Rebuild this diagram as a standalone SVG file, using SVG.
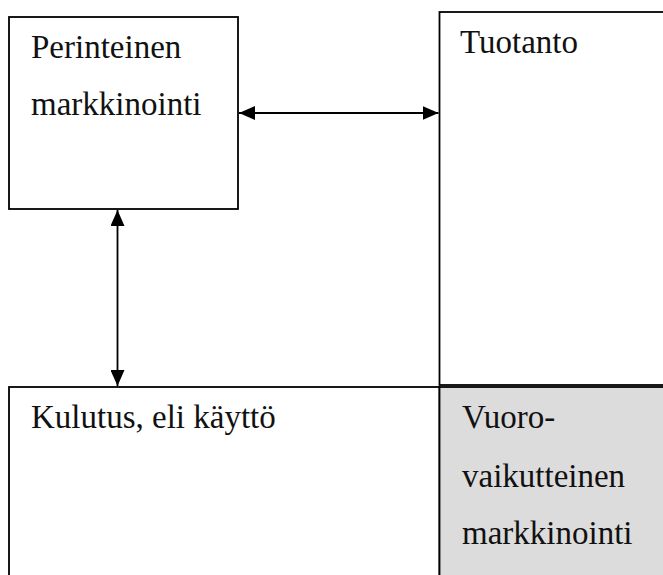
<svg xmlns="http://www.w3.org/2000/svg" width="663" height="575" viewBox="0 0 663 575">
  <style>
    .box { fill: #ffffff; stroke: #000000; stroke-width: 1.8; }
    .shade { fill: #dcdcdc; }
    .label { font-family: "Liberation Serif", "Times New Roman", serif; font-size: 33px; fill: #111111; }
    .link { stroke: #000000; stroke-width: 1.8; fill: none; }
  </style>
  <defs>
    <marker id="head" viewBox="0 0 16 14" refX="16" refY="7" markerWidth="16" markerHeight="14" markerUnits="userSpaceOnUse" orient="auto-start-reverse">
      <path d="M0,0 L16,7 L0,14 Z" fill="#000000"/>
    </marker>
  </defs>

  <g id="perinteinen">
    <rect class="box" x="9" y="17" width="229" height="192"/>
    <text class="label" x="31" y="58">Perinteinen</text>
    <text class="label" x="31" y="115">markkinointi</text>
  </g>

  <g id="tuotanto">
    <rect class="box" x="439.5" y="12" width="240" height="373"/>
    <text class="label" x="460" y="53">Tuotanto</text>
  </g>

  <g id="kulutus">
    <rect class="box" x="9" y="387" width="430.5" height="200"/>
    <text class="label" x="31" y="428">Kulutus, eli käyttö</text>
  </g>

  <g id="vuorovaikutteinen">
    <rect class="box shade" x="439.5" y="387" width="240" height="200" stroke-width="2.2"/>
    <text class="label" x="462" y="428">Vuoro-</text>
    <text class="label" x="462" y="487">vaikutteinen</text>
    <text class="label" x="462" y="544">markkinointi</text>
  </g>

  <g id="connectors">
    <line class="link" x1="239" y1="113" x2="438.5" y2="113" marker-start="url(#head)" marker-end="url(#head)"/>
    <line class="link" x1="117.5" y1="210" x2="117.5" y2="386" marker-start="url(#head)" marker-end="url(#head)"/>
  </g>
</svg>
